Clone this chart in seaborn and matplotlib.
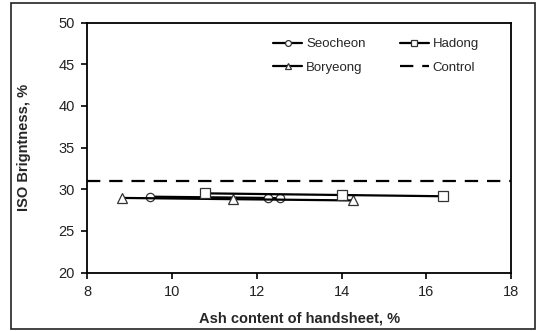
import pandas as pd
import matplotlib.pyplot as plt
import seaborn as sns
from matplotlib.patches import Rectangle

# Ash content (%) vs ISO brightness (%)
seocheon_ash = [9.48, 12.26, 12.54]
seocheon_bright = [29.1, 28.95, 28.9]
hadong_ash = [10.78, 14.0, 16.4]
hadong_bright = [29.5, 29.3, 29.15]
boryeong_ash = [8.82, 11.43, 14.28]
boryeong_bright = [28.95, 28.8, 28.65]
control_bright = 31.0

x_ticks = [8, 10, 12, 14, 16, 18]
y_ticks = [20, 25, 30, 35, 40, 45, 50]

sns.set_theme(style="ticks")
plt.rcParams["font.family"] = ["Liberation Sans", "DejaVu Sans"]

fig = plt.figure(figsize=(5.38, 3.31), dpi=100)
ax = fig.add_axes([0.1626, 0.1767, 0.7872, 0.7553])

series = [
    ("Seocheon", seocheon_ash, seocheon_bright, "o", 6),
    ("Boryeong", boryeong_ash, boryeong_bright, "^", 6.5),
    ("Hadong", hadong_ash, hadong_bright, "s", 6.5),
]
for name, xs, ys, mk, ms in series:
    df = pd.DataFrame({"ash": xs, "bright": ys})
    sns.lineplot(data=df, x="ash", y="bright", ax=ax, sort=False, color="black",
                 linewidth=1.6, marker=mk, markersize=ms, markerfacecolor="white",
                 markeredgecolor="#333333", markeredgewidth=0.9, label=name)

ax.axhline(control_bright, color="black", linestyle=(0, (6, 4)), linewidth=1.6, label="Control")

ax.set_xlim(8, 18)
ax.set_ylim(20, 50)
ax.set_xticks(x_ticks)
ax.set_yticks(y_ticks)
ax.tick_params(axis="both", labelsize=10.5, direction="out", length=4, width=1.2,
               color="black", labelcolor="#222222", pad=5)
for s in ax.spines.values():
    s.set_visible(True)
    s.set_color("black")
    s.set_linewidth(1.3)

ax.set_xlabel("Ash content of handsheet, %", fontsize=10.5, fontweight="bold", labelpad=9)
ax.set_ylabel("ISO Brigntness, %", fontsize=10.5, fontweight="bold", labelpad=20)

ax.legend(loc="upper left", bbox_to_anchor=(0.41, 0.985), ncol=2, frameon=False,
          fontsize=9.5, handlelength=2.2, handletextpad=0.3, columnspacing=2.6,
          labelspacing=0.85, markerscale=0.7)

fig.patches.append(Rectangle((0.0204, 0.006), 0.974, 0.985, transform=fig.transFigure,
                             fill=False, edgecolor="#222222", linewidth=1.2))

plt.savefig("out.png", dpi=100)
